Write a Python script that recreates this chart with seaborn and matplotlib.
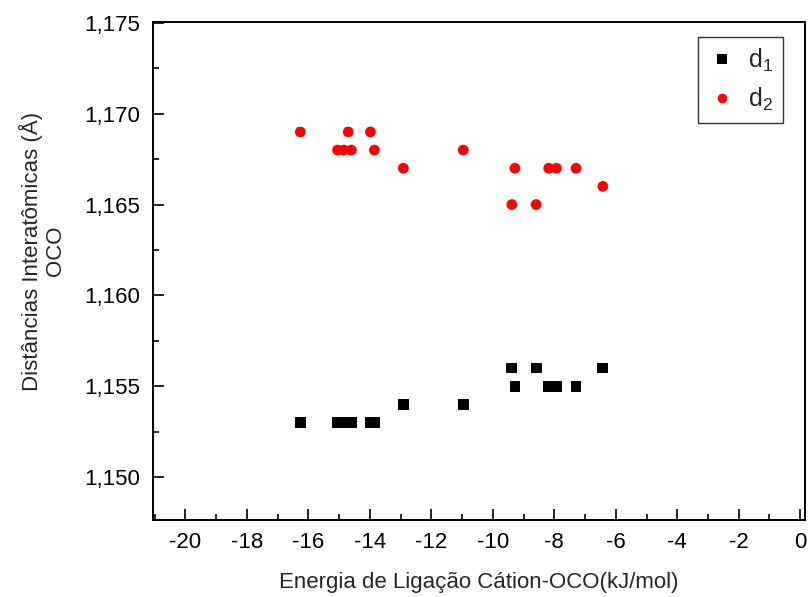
import pandas as pd
import matplotlib
matplotlib.use('Agg')
import matplotlib.pyplot as plt
import matplotlib.ticker as mticker
import seaborn as sns

# Binding energy cation-OCO (kJ/mol), one value per cation
energia = [-16.26, -15.05, -14.85, -14.70, -14.60, -13.98, -13.85, -12.91,
           -10.96, -9.38, -9.28, -8.59, -8.18, -7.93, -7.29, -6.42]

# Interatomic distances (Angstrom)
d1 = [1.153, 1.153, 1.153, 1.153, 1.153, 1.153, 1.153, 1.154,
      1.154, 1.156, 1.155, 1.156, 1.155, 1.155, 1.155, 1.156]
d2 = [1.169, 1.168, 1.168, 1.169, 1.168, 1.169, 1.168, 1.167,
      1.168, 1.165, 1.167, 1.165, 1.167, 1.167, 1.167, 1.166]

x_ticks = list(range(-20, 1, 2))
y_ticks = [1.150, 1.155, 1.160, 1.165, 1.170, 1.175]


def main():
    sns.set_style('white')
    plt.rcParams['font.family'] = ['Liberation Sans', 'DejaVu Sans']
    plt.rcParams['mathtext.fontset'] = 'custom'
    plt.rcParams['mathtext.rm'] = 'Liberation Sans'

    df = pd.DataFrame({
        'energia': energia * 2,
        'dist': d1 + d2,
        'serie': [r'$\mathregular{d_1}$'] * len(d1) + [r'$\mathregular{d_2}$'] * len(d2),
    })

    fig = plt.figure(figsize=(8.1, 5.97), dpi=100)
    ax = fig.add_axes([0.189, 0.129, 0.805, 0.834])

    sns.scatterplot(data=df, x='energia', y='dist', hue='serie', style='serie',
                    palette=['black', 'red'], markers=['s', 'o'],
                    s=60, linewidth=0, ax=ax)

    ax.set_xlim(-21.05, 0.16)
    ax.set_ylim(1.14763, 1.17505)
    ax.set_xticks(x_ticks)
    ax.set_yticks(y_ticks)
    ax.xaxis.set_minor_locator(mticker.MultipleLocator(1))
    ax.yaxis.set_minor_locator(mticker.MultipleLocator(0.0025))
    ax.xaxis.set_major_formatter(mticker.FuncFormatter(lambda v, p: f'{v:.0f}'))
    ax.yaxis.set_major_formatter(mticker.FuncFormatter(lambda v, p: f'{v:.3f}'.replace('.', ',')))
    ax.tick_params(which='both', direction='in', top=False, right=False,
                   bottom=True, left=True, labelsize=16, width=1.2, colors='black')
    ax.tick_params(which='major', length=8, pad=9)
    ax.tick_params(which='minor', length=4)
    for sp in ax.spines.values():
        sp.set_color('black')
        sp.set_linewidth(1.4)

    ax.set_xlabel('Energia de Ligação Cátion-OCO(kJ/mol)', fontsize=16, labelpad=13)
    ax.set_ylabel('Distâncias Interatômicas (Å)\nOCO', fontsize=16, linespacing=1.1)
    ax.yaxis.set_label_coords(-0.134, 0.54)

    leg = ax.legend(loc='upper right', bbox_to_anchor=(0.966, 0.970), fontsize=18,
                    frameon=True, fancybox=False, edgecolor='black',
                    handletextpad=0.5, borderpad=0.4, labelspacing=0.45,
                    handlelength=1.1, borderaxespad=0, markerscale=0.9)
    leg.get_frame().set_linewidth(1.0)

    fig.savefig('out.png', dpi=100)
    plt.close(fig)


if __name__ == '__main__':
    main()
